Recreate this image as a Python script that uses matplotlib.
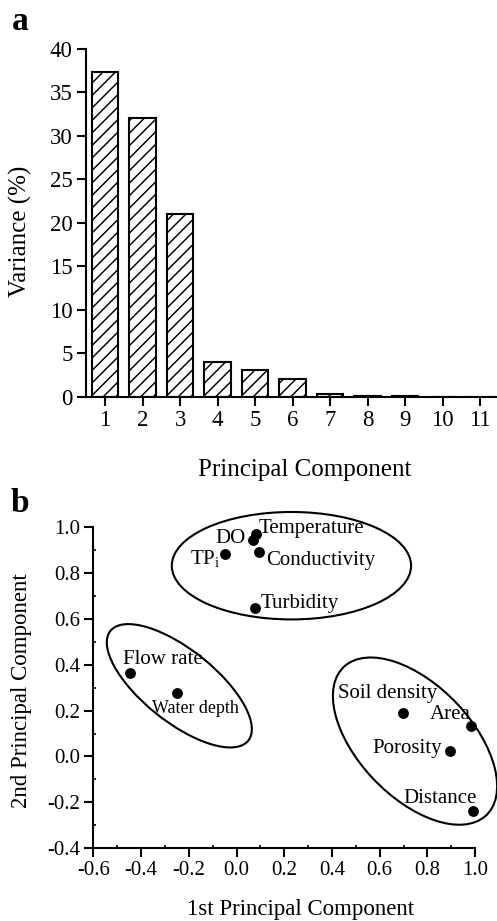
import matplotlib
matplotlib.use("Agg")
import matplotlib.pyplot as plt
from matplotlib.patches import Ellipse
from matplotlib.ticker import MultipleLocator, FormatStrFormatter

plt.rcParams['font.family'] = ['Liberation Serif', 'DejaVu Serif']
plt.rcParams['mathtext.fontset'] = 'custom'
plt.rcParams['mathtext.rm'] = 'Liberation Serif'
plt.rcParams['hatch.linewidth'] = 0.7

# panel a: explained variance
components = [1, 2, 3, 4, 5, 6, 7, 8, 9, 10, 11]
variance = [37.3, 32.0, 21.0, 4.05, 3.1, 2.05, 0.35, 0.15, 0.1, 0.05, 0.02]

# panel b: loadings
names = ['Temperature', 'DO', 'TP$_\\mathrm{i}$', 'Conductivity', 'Turbidity',
         'Flow rate', 'Water depth', 'Soil density', 'Area', 'Porosity', 'Distance']
pc1 = [0.082, 0.067, -0.048, 0.092, 0.078, -0.446, -0.248, 0.696, 0.984, 0.896, 0.99]
pc2 = [0.968, 0.942, 0.884, 0.891, 0.645, 0.362, 0.278, 0.19, 0.134, 0.025, -0.237]
label_pos = [(0.091, 0.994, 'left'), (0.036, 0.951, 'right'), (-0.068, 0.86, 'right'),
             (0.123, 0.855, 'left'), (0.099, 0.667, 'left'), (-0.474, 0.424, 'left'),
             (-0.355, 0.21, 'left'), (0.427, 0.275, 'left'), (0.809, 0.184, 'left'),
             (0.861, 0.034, 'right'), (0.70, -0.185, 'left')]
label_size = [10, 10, 10, 10, 10, 10, 8.6, 10, 10, 10, 10]

# group outlines: center x, center y, width, height, angle
groups = [(0.23, 0.831, 1.003, 0.468, 0),
          (-0.24, 0.308, 0.75, 0.31, -40),
          (0.748, 0.067, 0.88, 0.48, -48)]

fig = plt.figure(figsize=(497 / 150, 921 / 150), dpi=150)

ax = fig.add_axes([0.173, 0.569, 0.827, 0.378])
ax.bar(components, variance, width=0.7, color='white', edgecolor='black',
       linewidth=1.0, hatch='////')
ax.set_xlim(0.49, 11.45)
ax.set_ylim(0, 40)
ax.set_xticks(components)
ax.set_yticks(range(0, 41, 5))
for s in ['top', 'right']:
    ax.spines[s].set_visible(False)
for s in ['left', 'bottom']:
    ax.spines[s].set_linewidth(1.0)
ax.tick_params(direction='out', length=4.3, width=1.0, labelsize=11, pad=2)
ax.set_ylabel('Variance (%)', fontsize=12)
ax.set_xlabel('Principal Component', fontsize=12)
ax.yaxis.set_label_coords(-0.131, 0.477)
ax.xaxis.set_label_coords(0.533, -0.178)

bx = fig.add_axes([0.188, 0.0789, 0.768, 0.349])
bx.plot(pc1, pc2, 'o', color='black', markersize=4.2, clip_on=False)
for name, (tx, ty, ha), fs in zip(names, label_pos, label_size):
    bx.text(tx, ty, name, ha=ha, va='center', fontsize=fs)
for cx, cy, w, h, ang in groups:
    bx.add_patch(Ellipse((cx, cy), w, h, angle=ang, fill=False,
                         edgecolor='black', linewidth=1.0, clip_on=False))
bx.set_xlim(-0.6, 1.0)
bx.set_ylim(-0.4, 1.0)
bx.set_xticks([-0.6, -0.4, -0.2, 0.0, 0.2, 0.4, 0.6, 0.8, 1.0])
bx.set_yticks([-0.4, -0.2, 0.0, 0.2, 0.4, 0.6, 0.8, 1.0])
bx.xaxis.set_major_formatter(FormatStrFormatter('%.1f'))
bx.yaxis.set_major_formatter(FormatStrFormatter('%.1f'))
bx.xaxis.set_minor_locator(MultipleLocator(0.1))
bx.yaxis.set_minor_locator(MultipleLocator(0.1))
for s in ['top', 'right']:
    bx.spines[s].set_visible(False)
for s in ['left', 'bottom']:
    bx.spines[s].set_linewidth(1.0)
bx.tick_params(which='major', direction='out', length=4.3, width=1.0, labelsize=10, pad=2)
bx.tick_params(which='minor', direction='in', length=1.5, width=0.8)
bx.set_ylabel('2nd Principal Component', fontsize=11)
bx.set_xlabel('1st Principal Component', fontsize=11)
bx.yaxis.set_label_coords(-0.161, 0.492)
bx.xaxis.set_label_coords(0.542, -0.158)

fig.text(20 / 497, 1 - 22 / 921, 'a', fontsize=16, fontweight='bold', ha='center', va='center')
fig.text(20 / 497, 1 - 503 / 921, 'b', fontsize=16, fontweight='bold', ha='center', va='center')

fig.savefig('out.png', dpi=150)
